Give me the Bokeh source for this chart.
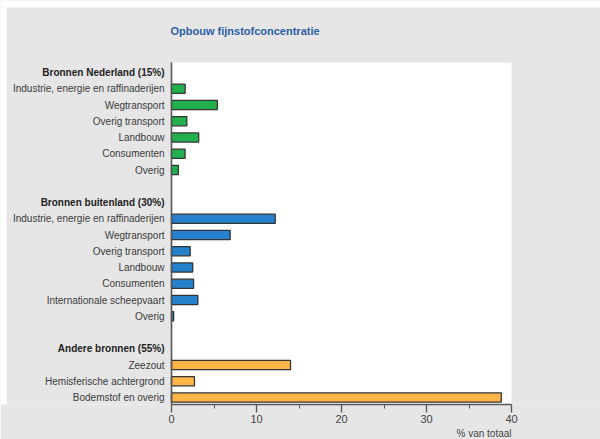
from bokeh.plotting import figure
from bokeh.models import Range1d, ColumnDataSource, SingleIntervalTicker, Title
from bokeh.core.properties import value
from bokeh.embed import file_html
from bokeh.resources import INLINE

title_text = "Opbouw fijnstofconcentratie"
x_axis_label = "% van totaal"

header_nl = "Bronnen Nederland (15%)"
nl_labels = ["Industrie, energie en raffinaderijen", "Wegtransport", "Overig transport",
             "Landbouw", "Consumenten", "Overig"]
nl_values = [1.6, 5.4, 1.8, 3.2, 1.6, 0.8]

header_bl = "Bronnen buitenland (30%)"
bl_labels = ["Industrie, energie en raffinaderijen", "Wegtransport", "Overig transport",
             "Landbouw", "Consumenten", "Internationale scheepvaart", "Overig"]
bl_values = [12.2, 6.9, 2.2, 2.5, 2.6, 3.1, 0.25]

header_ab = "Andere bronnen (55%)"
ab_labels = ["Zeezout", "Hemisferische achtergrond", "Bodemstof en overig"]
ab_values = [14.0, 2.7, 38.8]

x_max = 40

colors = {"nl": "#22b04c", "bl": "#2581cb", "ab": "#fdb548"}

# build rows (row index = position on the numeric y axis)
rows_bar = {"y": [], "v": [], "c": []}
item_rows = {"y": [], "t": []}
head_rows = {"y": [], "t": []}
row = 0
for header, labels, vals, key in [(header_nl, nl_labels, nl_values, "nl"),
                                   (header_bl, bl_labels, bl_values, "bl"),
                                   (header_ab, ab_labels, ab_values, "ab")]:
    head_rows["y"].append(row); head_rows["t"].append(header)
    row += 1
    for lab, v in zip(labels, vals):
        item_rows["y"].append(row); item_rows["t"].append(lab)
        rows_bar["y"].append(row); rows_bar["v"].append(v); rows_bar["c"].append(colors[key])
        row += 1
    row += 1  # blank row between groups
last_row = row - 2

ROW_PX = 16.25
PX_X = 8.5
top_data = (0 - 72) / ROW_PX
bottom_data = last_row + (404 - 397) / ROW_PX
white_top = -(72 - 62) / ROW_PX
x_start = -171 / PX_X
x_end = x_max + (600 - 511) / PX_X

p = figure(width=600, height=439, output_backend="svg", toolbar_location=None,
           x_range=Range1d(x_start, x_end), y_range=Range1d(bottom_data, top_data),
           y_axis_location=None, min_border_left=0, min_border_right=0,
           min_border_top=0, min_border_bottom=35)
p.background_fill_color = "#e6e6e6"
p.border_fill_color = "#e6e6e6"
p.outline_line_color = None
p.grid.visible = False

# white page margins at top and left
p.quad(left=[x_start], right=[x_end], top=[top_data], bottom=[(7 - 72) / ROW_PX],
       fill_color="white", line_color=None)
p.quad(left=[x_start], right=[x_start + 6 / PX_X], top=[top_data], bottom=[bottom_data],
       fill_color="white", line_color=None)

# white plotting area
p.quad(left=[0], right=[x_max], top=[white_top], bottom=[bottom_data],
       fill_color="white", line_color=None)

src = ColumnDataSource(dict(y=rows_bar["y"], v=rows_bar["v"], c=rows_bar["c"]))
p.hbar(y="y", left=0, right="v", height=0.56, fill_color="c", source=src,
       line_color="#333333", line_width=1.3)

# vertical baseline
p.segment(x0=[0], x1=[0], y0=[white_top], y1=[bottom_data], line_color="#555555", line_width=1.6)

label_font = value("Liberation Sans")
isrc = ColumnDataSource(dict(y=item_rows["y"], t=item_rows["t"]))
p.text(x=-0.82, y="y", text="t", source=isrc, text_align="right", text_baseline="middle",
       text_font=label_font, text_font_size="10px", text_color="#3a3a3a")
hsrc = ColumnDataSource(dict(y=head_rows["y"], t=head_rows["t"]))
p.text(x=-0.82, y="y", text="t", source=hsrc, text_align="right", text_baseline="middle",
       text_font=label_font, text_font_size="10px", text_font_style="bold", text_color="#222222")

p.text(x=[-0.12], y=[(30 - 72) / ROW_PX], text=[title_text], text_align="left",
       text_baseline="middle", text_font=label_font, text_font_size="11px",
       text_font_style="bold", text_color="#2b5ea8")

ax = p.xaxis[0]
ax.ticker = SingleIntervalTicker(interval=10, num_minor_ticks=2)
ax.bounds = (0, x_max)
ax.axis_line_color = "#555555"
ax.axis_line_width = 1.5
ax.major_tick_line_color = "#555555"
ax.major_tick_line_width = 1.3
ax.major_tick_out = 8
ax.major_tick_in = 0
ax.minor_tick_line_color = "#555555"
ax.minor_tick_out = 4
ax.minor_tick_in = 0
ax.major_label_standoff = 2
ax.major_label_text_font = "Liberation Sans"
ax.major_label_text_font_size = "11px"
ax.major_label_text_color = "#444444"

unit_title = Title(text=x_axis_label, align="right", offset=89, standoff=0,
                   text_font="Liberation Sans", text_font_size="10px",
                   text_font_style="normal", text_color="#444444")
p.add_layout(unit_title, "below")

open("out.html", "w").write(file_html(p, INLINE))
